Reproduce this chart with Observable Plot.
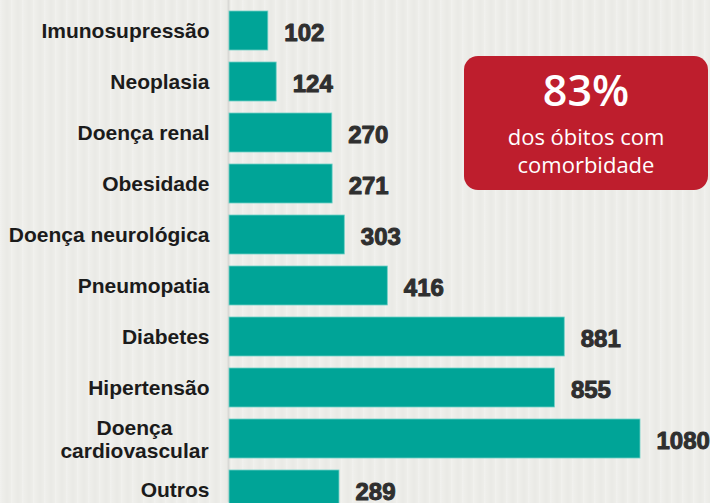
<!DOCTYPE html>
<html>
<head>
<meta charset="utf-8">
<script src="https://cdn.jsdelivr.net/npm/d3@7"></script>
<script src="https://cdn.jsdelivr.net/npm/@observablehq/plot@0.6"></script>
<style>
  html, body { margin: 0; padding: 0; }
  body {
    width: 710px; height: 503px; overflow: hidden; position: relative;
    background-color: #edede9;
    background-image: repeating-linear-gradient(90deg, rgba(255,255,255,0.25) 0px, rgba(255,255,255,0) 3px, rgba(0,0,0,0.015) 7px, rgba(255,255,255,0) 11px);
  }
  #chart { position: absolute; left: 0; top: 0; }
  #badge {
    position: absolute; left: 464px; top: 56px; width: 244px; height: 134px;
    background: #be1e2d; border-radius: 14px; color: #fff; text-align: center;
    font-family: "Open Sans", Lato, sans-serif;
  }
  #badge .big { font-size: 43px; font-weight: 600; line-height: 44px; margin-top: 12px; }
  #badge .small { font-size: 22px; font-weight: 400; line-height: 28px; margin-top: 10px; }
</style>
</head>
<body>
<div id="chart"></div>
<div id="badge"><div class="big">83%</div><div class="small">dos óbitos com<br>comorbidade</div></div>
<script>
const categories = ["Imunosupressão", "Neoplasia", "Doença renal", "Obesidade", "Doença neurológica",
  "Pneumopatia", "Diabetes", "Hipertensão", "Doença\ncardiovascular", "Outros"];
const values = [102, 124, 270, 271, 303, 416, 881, 855, 1080, 289];

const data = categories.map((c, i) => ({category: c, value: values[i]}));
const single = data.filter(d => !d.category.includes("\n"));
const multi = data.filter(d => d.category.includes("\n"));

const plot = Plot.plot({
  width: 710,
  height: 503,
  marginLeft: 229,
  marginRight: 70,
  style: {background: "transparent", overflow: "visible"},
  x: {domain: [0, 1080], axis: null},
  y: {domain: categories, range: [-4, 524], padding: 0.23, axis: null},
  marks: [
    Plot.ruleX([0], {stroke: "#d9d9d6", strokeWidth: 2, dx: -1}),
    Plot.barX(data, {x: "value", y: "category", fill: "#00a497", stroke: "#6fcfc6", strokeWidth: 0.8}),
    Plot.text(single, {x: 0, y: "category", text: "category", textAnchor: "end", dx: -20,
      fontFamily: "Liberation Sans, Arial, sans-serif", fontWeight: "bold", fontSize: 21,
      fill: "#1b1b1b"}),
    Plot.text(multi, {x: 0, y: "category", text: "category", textAnchor: "middle", dx: -95,
      lineHeight: 1.12,
      fontFamily: "Liberation Sans, Arial, sans-serif", fontWeight: "bold", fontSize: 21,
      fill: "#1b1b1b"}),
    Plot.text(data, {x: "value", y: "category", text: d => String(d.value), textAnchor: "start",
      dx: 16, dy: 2, fontFamily: "Liberation Sans, Arial, sans-serif", fontWeight: "bold",
      fontSize: 24, fill: "#2f2f2f", stroke: "#2f2f2f", strokeWidth: 1})
  ]
});
document.getElementById("chart").appendChild(plot);
</script>
</body>
</html>
